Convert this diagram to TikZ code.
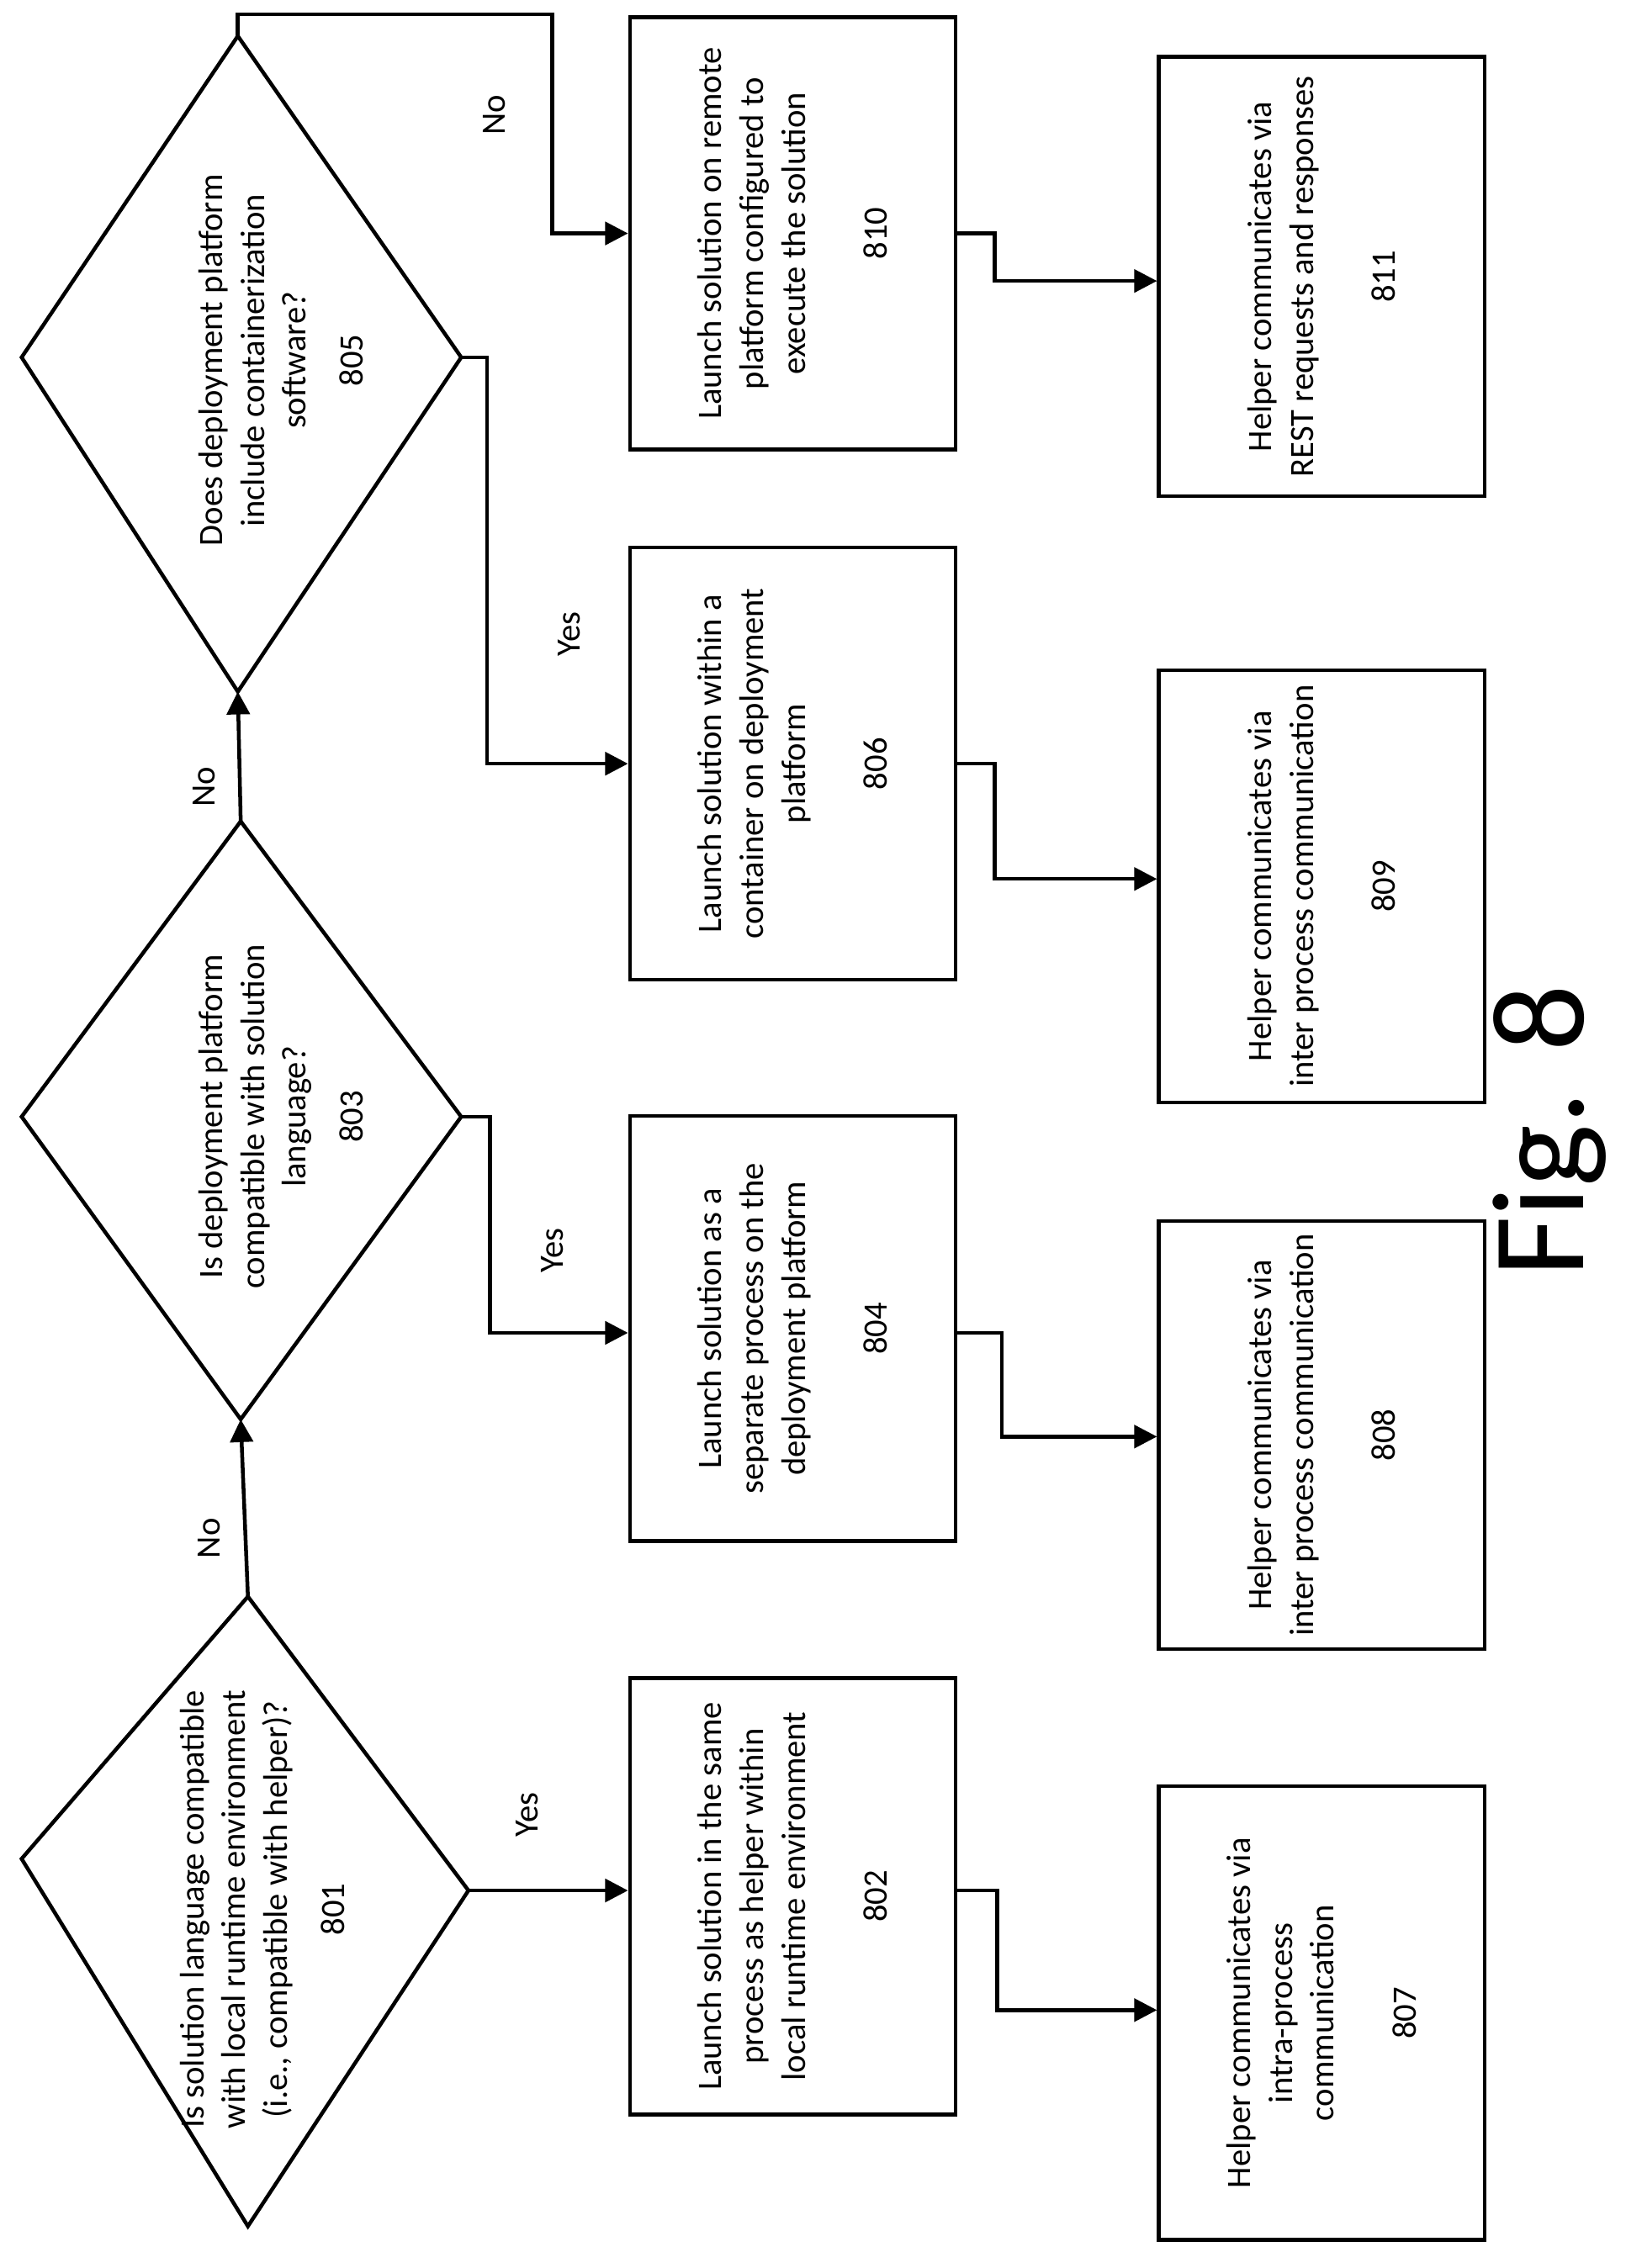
\documentclass[tikz,border=0pt]{standalone}
\usepackage{fontspec}
\setmainfont{Carlito}
\usetikzlibrary{arrows.meta}
\begin{document}
\begin{tikzpicture}[x=0.02cm, y=-0.02cm, line width=1.5pt,
  every node/.style={font=\fontsize{13.5}{16.5}\selectfont},
  box/.style={draw, rotate=90, align=center, minimum height=4.52cm},
  txt/.style={rotate=90, align=center},
  flow/.style={-{Triangle[length=9pt, width=9pt]}}]
  \useasboundingbox (0,0) rectangle (1128,1574);
  % decisions
  \coordinate (d1l) at (15,1290); \coordinate (d1t) at (172,1108);
  \coordinate (d1r) at (325,1312); \coordinate (d1b) at (172,1545);
  \draw (d1l) -- (d1t) -- (d1r) -- (d1b) -- cycle;
  \node[txt] (d1) at (182,1325) {Is solution language compatible\\with local runtime environment\\(i.e., compatible with helper)?\\[6pt]801};
  \coordinate (d3l) at (15,775); \coordinate (d3t) at (167,570);
  \coordinate (d3r) at (320,775); \coordinate (d3b) at (167,985);
  \draw (d3l) -- (d3t) -- (d3r) -- (d3b) -- cycle;
  \node[txt] (d3) at (195,775) {Is deployment platform\\compatible with solution\\language?\\[6pt]803};
  \coordinate (d5l) at (15,248); \coordinate (d5t) at (165,25);
  \coordinate (d5r) at (320,248); \coordinate (d5b) at (165,480);
  \draw (d5l) -- (d5t) -- (d5r) -- (d5b) -- cycle;
  \node[txt] (d5) at (195,250) {Does deployment platform\\include containerization\\software?\\[6pt]805};
  % launch boxes
  \node[box, minimum width=6.06cm] (b802) at (550,1316) {Launch solution in the same\\process as helper within\\local runtime environment\\[16pt]802};
  \node[box, minimum width=5.9cm] (b804) at (550,922) {Launch solution as a\\separate process on the\\deployment platform\\[16pt]804};
  \node[box, minimum width=6cm] (b806) at (550,530) {Launch solution within a\\container on deployment\\platform\\[16pt]806};
  \node[box, minimum width=6cm] (b810) at (550,162) {Launch solution on remote\\platform configured to\\execute the solution\\[16pt]810};
  % communication boxes
  \node[box, minimum width=6.3cm] (b807) at (917,1397) {Helper communicates via\\intra-process\\communication\\[16pt]807};
  \node[box, minimum width=5.94cm] (b808) at (917,996) {Helper communicates via\\inter process communication\\[16pt]808};
  \node[box, minimum width=6cm] (b809) at (917,615) {Helper communicates via\\inter process communication\\[16pt]809};
  \node[box, minimum width=6.1cm] (b811) at (917,192) {Helper communicates via\\REST requests and responses\\[16pt]811};
  % connectors
  \draw[flow] (d1t) -- (d3b) node[midway, left=14pt, txt] {No};
  \draw[flow] (d3t) -- (d5b) node[midway, left=14pt, txt] {No};
  \draw[flow] (d1r) -- (b802.north |- d1r) node[midway, above=30pt, txt] {Yes};
  \draw[flow] (d3r) -- (340,775) -- (340,925) -- (b804.north |- 0,925);
  \node[txt] at (383,868) {Yes};
  \draw[flow] (d5r) -- (338,248) -- (338,530) -- (b806.north |- 0,530);
  \node[txt] at (395,440) {Yes};
  \draw[flow] (d5t) -- (165,25) -- (165,10) -- (383,10) -- (383,162) -- (b810.north |- 0,162);
  \node[txt] at (343,80) {No};
  \draw[flow] (b802.south |- 0,1312) -- (692,1312) -- (692,1395) -- (b807.north |- 0,1395);
  \draw[flow] (b804.south |- 0,925) -- (695,925) -- (695,997) -- (b808.north |- 0,997);
  \draw[flow] (b806.south |- 0,530) -- (690,530) -- (690,610) -- (b809.north |- 0,610);
  \draw[flow] (b810.south |- 0,162) -- (690,162) -- (690,195) -- (b811.north |- 0,195);
  \node[txt, font=\fontsize{52}{60}\selectfont] (fig) at (1075,785) {Fig. 8};
\end{tikzpicture}
\end{document}
